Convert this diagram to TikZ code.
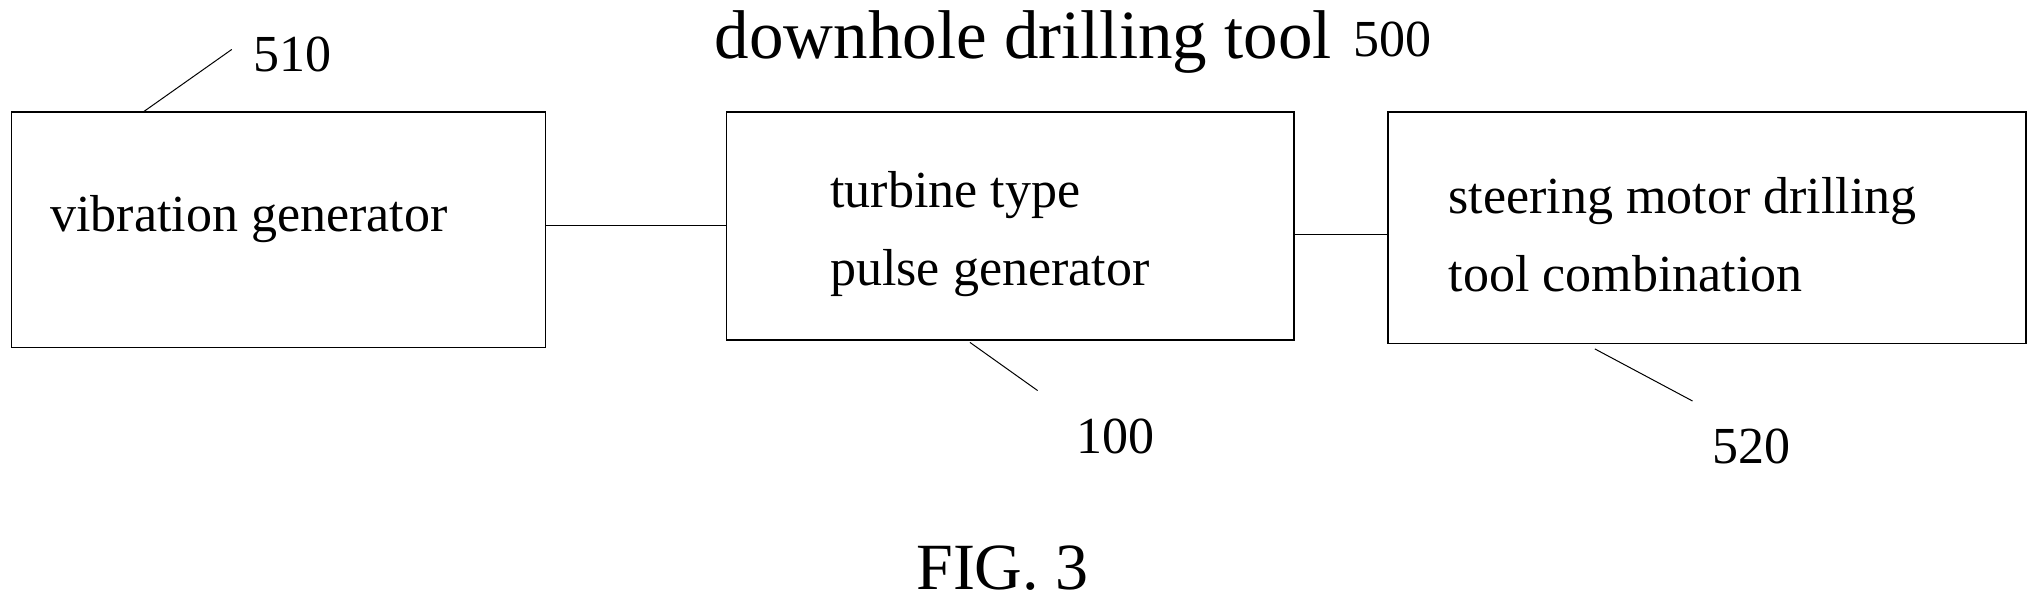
\documentclass[tikz,border=0pt]{standalone}
\usepackage{fontspec}
\setmainfont{Liberation Serif}
\begin{document}
\begin{tikzpicture}[x=1.302pt,y=-1.302pt,
  blk/.style={draw,line width=1.5pt,anchor=north west,inner sep=0pt,outer sep=0pt},
  lbl/.style={font=\fontsize{52}{78}\selectfont,align=left},
  num/.style={font=\fontsize{52}{58}\selectfont},
  ln/.style={line width=1pt}]
\useasboundingbox (0,0) rectangle (1560,462);
\node[blk,minimum width=410*1.302pt,minimum height=181*1.302pt] (b1) at (9,86) {};
\node[blk,minimum width=436*1.302pt,minimum height=175*1.302pt] (b2) at (558,86) {};
\node[blk,minimum width=490*1.302pt,minimum height=178*1.302pt] (b3) at (1066,86) {};
\node[lbl,anchor=west] (t1) at (36,168) {vibration generator};
\node[lbl,anchor=west] (t2) at (635,180) {turbine type\\pulse generator};
\node[lbl,anchor=west] (t3) at (1110,180) {steering motor drilling\\tool combination};
\draw[ln] (b1.east |- 0,173) -- (b2.west |- 0,173);
\draw[ln] (b2.east |- 0,180) -- (b3.west |- 0,180);
\node[font=\fontsize{69}{78}\selectfont] (title) at (786,32) {downhole drilling tool};
\node[num,anchor=west] (n500) at (1037,30) {500};
\node[num] (n510) at (225,42) {510};
\draw[ln] (110,86) coordinate (l1a) -- (178,38) coordinate (l1b);
\node[num] (n100) at (857,335) {100};
\draw[ln] (745,263) coordinate (l2a) -- (797,300) coordinate (l2b);
\node[num] (n520) at (1345,343) {520};
\draw[ln] (1225,268) coordinate (l3a) -- (1300,308) coordinate (l3b);
\node[font=\fontsize{66}{70}\selectfont] (fig) at (770,436) {FIG. 3};
\end{tikzpicture}
\end{document}
